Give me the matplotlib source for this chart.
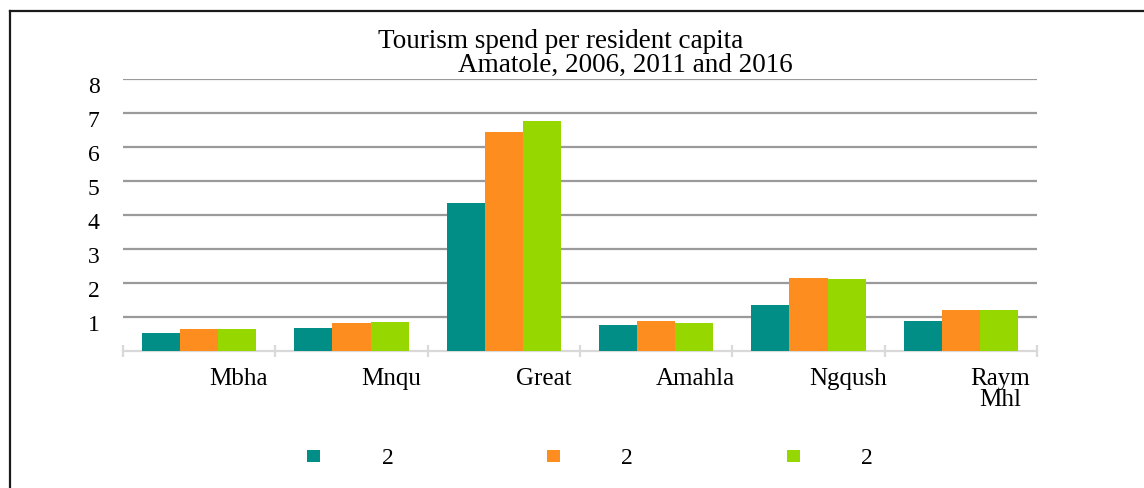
import matplotlib
matplotlib.use("Agg")
import matplotlib.pyplot as plt
from matplotlib.patches import Patch
from matplotlib.lines import Line2D
from matplotlib.transforms import ScaledTranslation
import numpy as np

# Tourism spend per resident capita by local municipality
categories = ["Mbha", "Mnqu", "Great", "Amahla", "Ngqush", "Raym\nMhl"]
spend_2006 = [0.54, 0.68, 4.35, 0.76, 1.35, 0.88]
spend_2011 = [0.65, 0.82, 6.44, 0.88, 2.15, 1.21]
spend_2016 = [0.65, 0.85, 6.76, 0.82, 2.12, 1.21]
series_labels = ["2", "2", "2"]
y_ticks = [1, 2, 3, 4, 5, 6, 7, 8]

colors = ["#008E87", "#FD8D1F", "#97D700"]
FONT = "Liberation Serif"

W, H = 1144, 488
fig = plt.figure(figsize=(W / 100, H / 100), dpi=100)
ax = fig.add_axes([123 / W, 137 / H, 914 / W, 272 / H])

x = np.arange(len(categories))
bw = 0.25
for k, vals in enumerate([spend_2006, spend_2011, spend_2016]):
    ax.bar(x + (k - 1) * bw, vals, width=bw, color=colors[k], zorder=3)

ax.set_xlim(-0.5, len(categories) - 0.5)
ax.set_ylim(0, 8)

# horizontal gridlines
ax.set_yticks(y_ticks)
ax.set_yticklabels([str(t) for t in y_ticks], fontsize=17, fontfamily=FONT)
ax.tick_params(axis="y", length=0, pad=17)
ax.yaxis.grid(True, color="#9a9a9a", lw=1.6, zorder=0)
for lab in ax.get_yticklabels():
    lab.set_transform(lab.get_transform() + ScaledTranslation(0, -6 / 100, fig.dpi_scale_trans))

# category boundary ticks and shifted category labels
ax.set_xticks(np.arange(-0.5, len(categories), 1.0))
ax.set_xticklabels([])
ax.tick_params(axis="x", which="major", direction="inout", length=8,
               width=1.6, color="#d9d9d9")
ax.set_xticks(x + 0.26, minor=True)
ax.set_xticklabels(categories, minor=True, fontsize=18, fontfamily=FONT,
                   linespacing=0.95)
ax.tick_params(axis="x", which="minor", length=0, pad=12)

for side in ["top", "right", "left"]:
    ax.spines[side].set_visible(False)
ax.spines["bottom"].set_color("#d9d9d9")
ax.spines["bottom"].set_linewidth(1.6)
ax.set_axisbelow(True)

# two-line title
fig.text(561 / W, 1 - 48 / H, "Tourism spend per resident capita",
         ha="center", va="baseline", fontsize=19.5, fontfamily=FONT)
fig.text(625 / W, 1 - 71.5 / H, "Amatole, 2006, 2011 and 2016",
         ha="center", va="baseline", fontsize=19.5, fontfamily=FONT)

# legend
handles = [Patch(facecolor=c, edgecolor="none") for c in colors]
fig.legend(handles, series_labels, loc="center", ncol=3,
           bbox_to_anchor=(590 / W, 1 - 459 / H), frameon=False,
           prop={"family": FONT, "size": 17},
           handlelength=0.55, handleheight=0.38, handletextpad=2.6,
           columnspacing=6.5)

# outer frame (left and top edges)
fig.add_artist(Line2D([9.5 / W, 9.5 / W], [0, 1 - 11 / H], color="#1a1a1a",
                      lw=1.6, transform=fig.transFigure))
fig.add_artist(Line2D([9.5 / W, 1], [1 - 11 / H, 1 - 11 / H], color="#1a1a1a",
                      lw=1.6, transform=fig.transFigure))

fig.savefig("out.png", dpi=100, facecolor="white")
